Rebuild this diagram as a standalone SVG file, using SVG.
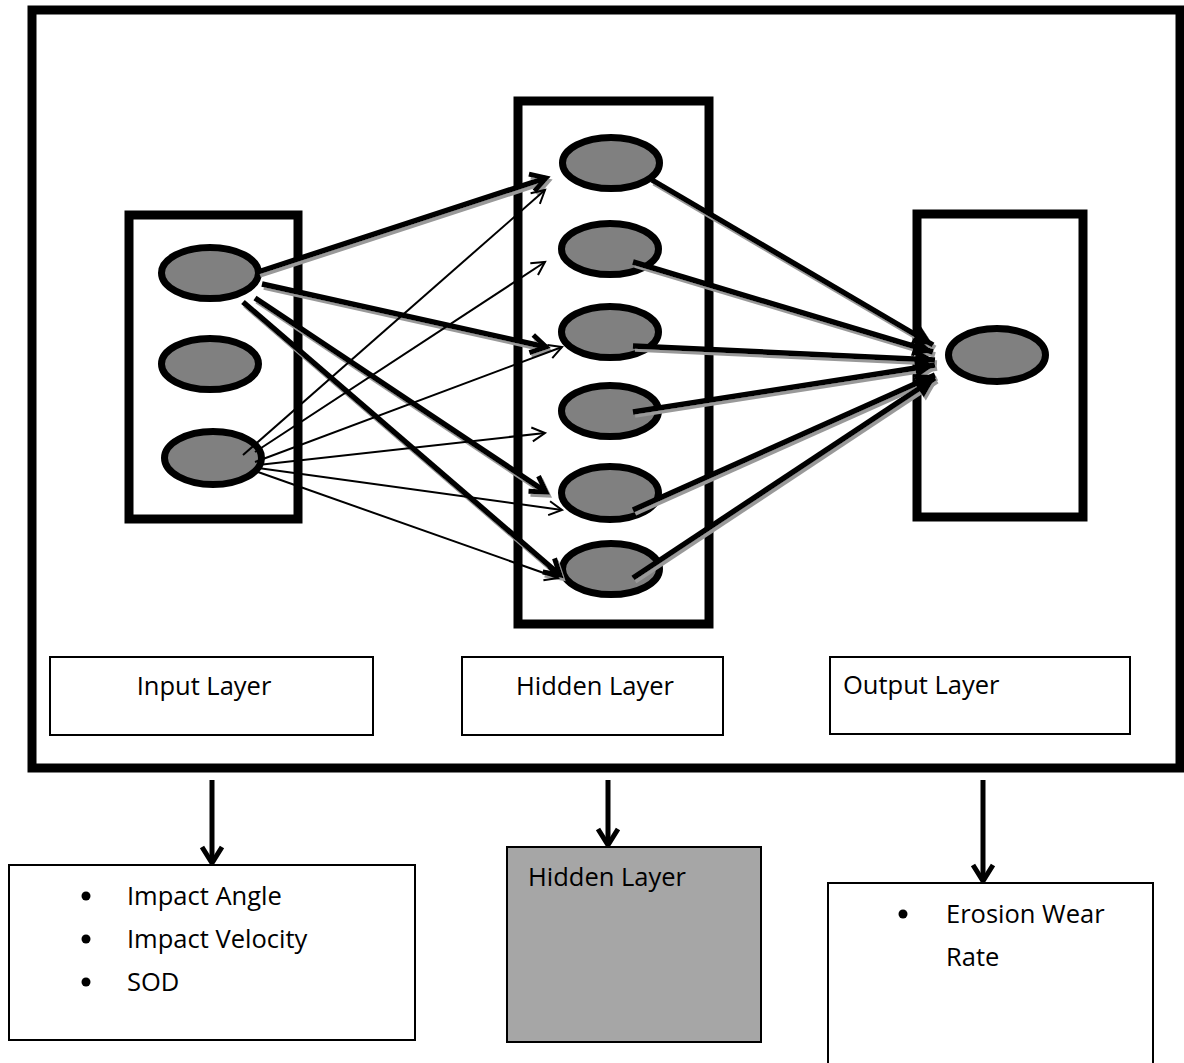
<svg xmlns="http://www.w3.org/2000/svg" width="1184" height="1063" viewBox="0 0 1184 1063">
<style>
.frame{fill:#fff;stroke:#000;stroke-width:9}
.layer{fill:#fff;stroke:#000;stroke-width:9}
.node{fill:#808080;stroke:#000;stroke-width:7}
.lbl{fill:#fff;stroke:#000;stroke-width:2}
.txt{font-family:"Open Sans","Liberation Sans",sans-serif;font-size:25.5px;fill:#000}
.thick{stroke:#000;stroke-width:5.5;fill:none}
.thin{stroke:#000;stroke-width:2;fill:none}
.down{stroke:#000;stroke-width:5;fill:none}
</style>
<defs>
<marker id="vThick" markerUnits="userSpaceOnUse" markerWidth="30" markerHeight="30" refX="20" refY="15" orient="auto">
<path d="M5,6 L20,15 L5,24" fill="none" stroke="#000" stroke-width="5"/>
</marker>
<marker id="tri" markerUnits="userSpaceOnUse" markerWidth="30" markerHeight="30" refX="22" refY="15" orient="auto">
<path d="M2,5 L22,15 L2,25 z" fill="#000"/>
</marker>
<marker id="vThin" markerUnits="userSpaceOnUse" markerWidth="20" markerHeight="20" refX="15" refY="10" orient="auto">
<path d="M2,3 L15,10 L2,17" fill="none" stroke="#000" stroke-width="2"/>
</marker>
<marker id="vDown" markerUnits="userSpaceOnUse" markerWidth="30" markerHeight="30" refX="20" refY="15" orient="auto">
<path d="M4,5 L20,15 L4,25" fill="none" stroke="#000" stroke-width="5"/>
</marker>
<filter id="sh" x="-10%" y="-10%" width="120%" height="120%">
<feDropShadow dx="2" dy="3" stdDeviation="0.6" flood-color="#999" flood-opacity="1"/>
</filter>
</defs>
<rect width="1184" height="1063" fill="#fff"/>
<g id="frame"><rect class="frame" x="32" y="10" width="1148" height="758"/></g>

<g id="input-layer"><rect class="layer" x="129" y="215" width="169" height="304"/></g>
<g id="hidden-layer"><rect class="layer" x="518" y="101" width="191" height="523"/></g>
<g id="output-layer"><rect class="layer" x="917" y="214" width="166" height="303"/></g>

<g id="in1"><ellipse class="node" cx="210" cy="273" rx="48.5" ry="25.5"/></g>
<g id="in2"><ellipse class="node" cx="210" cy="364" rx="48.5" ry="25.5"/></g>
<g id="in3"><ellipse class="node" cx="213" cy="458" rx="48.5" ry="26.5"/></g>

<g id="h1"><ellipse class="node" cx="611" cy="163" rx="48.5" ry="25.5"/></g>
<g id="h2"><ellipse class="node" cx="610" cy="249" rx="48.5" ry="25.5"/></g>
<g id="h3"><ellipse class="node" cx="610" cy="332" rx="48.5" ry="25.5"/></g>
<g id="h4"><ellipse class="node" cx="610" cy="411" rx="48.5" ry="25.5"/></g>
<g id="h5"><ellipse class="node" cx="610" cy="493" rx="48.5" ry="26.5"/></g>
<g id="h6"><ellipse class="node" cx="611" cy="569" rx="48.5" ry="25.5"/></g>

<g id="out1"><ellipse class="node" cx="997" cy="355" rx="48.5" ry="26.5"/></g>

<g id="connectors">
<g filter="url(#sh)">
<path class="thick" marker-end="url(#vThick)" d="M258,272 L546,178"/>
<path class="thick" marker-end="url(#vThick)" d="M262,284 L546,347"/>
<path class="thick" marker-end="url(#vThick)" d="M255,298 L546,492"/>
<path class="thick" marker-end="url(#vThick)" d="M243,302 L560,575"/>
<path class="thick" marker-end="url(#tri)" d="M652,180 L933,345"/>
<path class="thick" marker-end="url(#tri)" d="M633,262 L933,352"/>
<path class="thick" marker-end="url(#tri)" d="M633,346 L935,360"/>
<path class="thick" marker-end="url(#tri)" d="M633,412 L935,365"/>
<path class="thick" marker-end="url(#tri)" d="M633,510 L935,375"/>
<path class="thick" marker-end="url(#tri)" d="M633,578 L935,378"/>
</g>
<path class="thin" marker-end="url(#vThin)" d="M243,455 L545,190"/>
<path class="thin" marker-end="url(#vThin)" d="M255,452 L545,262"/>
<path class="thin" marker-end="url(#vThin)" d="M255,462 L562,347"/>
<path class="thin" marker-end="url(#vThin)" d="M258,465 L545,433"/>
<path class="thin" marker-end="url(#vThin)" d="M258,468 L562,510"/>
<path class="thin" marker-end="url(#vThin)" d="M258,472 L558,578"/>
<path class="down" marker-end="url(#vDown)" d="M212,780 L212,863"/>
<path class="down" marker-end="url(#vDown)" d="M608,780 L608,845"/>
<path class="down" marker-end="url(#vDown)" d="M983,780 L983,881"/>
</g>

<g id="label-input"><rect class="lbl" x="50" y="657" width="323" height="78"/><text class="txt" x="204" y="695" text-anchor="middle">Input Layer</text></g>
<g id="label-hidden"><rect class="lbl" x="462" y="657" width="261" height="78"/><text class="txt" x="595" y="695" text-anchor="middle">Hidden Layer</text></g>
<g id="label-output"><rect class="lbl" x="830" y="657" width="300" height="77" stroke="#444"/><text class="txt" x="843" y="694">Output Layer</text></g>

<g id="box-inputs">
<rect class="lbl" x="9" y="865" width="406" height="175"/>
<circle cx="86" cy="896" r="4.5"/>
<circle cx="86" cy="939" r="4.5"/>
<circle cx="86" cy="982" r="4.5"/>
<text class="txt" x="127" y="905">Impact Angle</text>
<text class="txt" x="127" y="948">Impact Velocity</text>
<text class="txt" x="127" y="991">SOD</text>
</g>
<g id="box-hidden">
<rect x="507" y="847" width="254" height="195" fill="#a6a6a6" stroke="#000" stroke-width="2"/>
<text class="txt" x="528" y="886">Hidden Layer</text>
</g>
<g id="box-output">
<rect class="lbl" x="828" y="883" width="325" height="200"/>
<circle cx="903" cy="914" r="4.5"/>
<text class="txt" x="946" y="923">Erosion Wear</text>
<text class="txt" x="946" y="966">Rate</text>
</g>
</svg>
